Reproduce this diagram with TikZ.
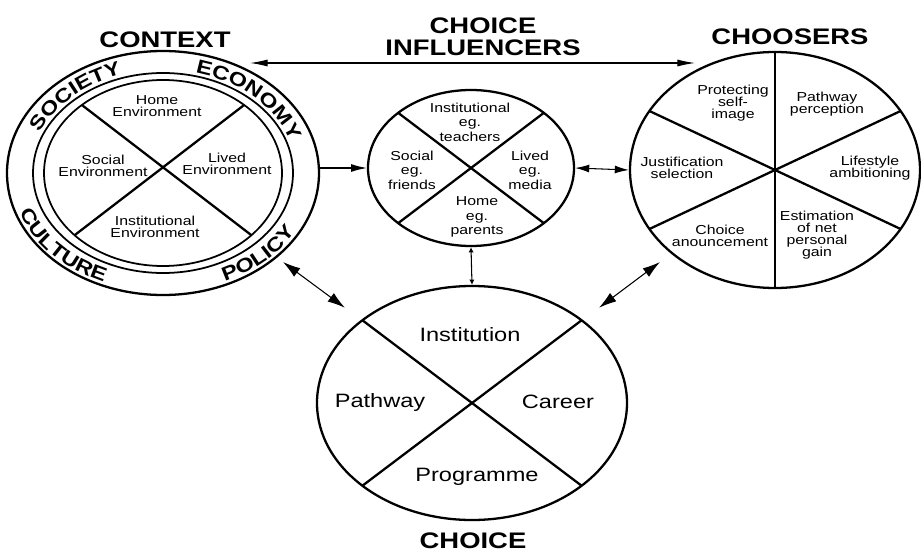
\documentclass[tikz,border=0pt]{standalone}
\usepackage{fontspec}
\setmainfont{Liberation Sans}[FakeStretch=1.22]
\usetikzlibrary{shapes.geometric,arrows.meta,decorations.text}
\begin{document}
\begin{tikzpicture}[
    ring/.style={draw, ellipse, line width=1.3pt, inner sep=0pt},
    spoke/.style={line width=1.3pt},
    small/.style={align=center, font=\fontsize{7.4}{6.9}\selectfont},
    big/.style={font=\fontsize{11}{12}\selectfont},
    head/.style={align=center, font=\bfseries\fontsize{12.8}{12.5}\selectfont},
    arr/.style={line width=0.6pt, >={Latex[length=9pt,width=4.5pt]}},
    band/.style={decorate, decoration={text along path, text align=center,
        text={|\bfseries\fontsize{11}{10}\selectfont|#1}}}
]
    \useasboundingbox (0,0) rectangle (18.42,11.02);

    % context
    \node[ring, minimum width=6.24cm, minimum height=4.88cm] (ctx) at (3.26,7.56) {};
    \draw[line width=1pt] (ctx.center) ellipse (2.6 and 2.0);
    \draw[line width=1pt] (ctx.center) ellipse (2.38 and 1.86);
    \begin{scope}[shift={(ctx.center)}]
        \draw[spoke] (133:2.38 and 1.86) -- (-42:2.38 and 1.86);
        \draw[spoke] (47:2.38 and 1.86) -- (222:2.38 and 1.86);
    \end{scope}
    \path[band=SOCIETY, shift={(ctx.center)}] (180:2.67 and 2.07) arc[start angle=180, end angle=90, x radius=2.67, y radius=2.07];
    \path[band=ECONOMY, shift={(ctx.center)}] (90:2.67 and 2.07) arc[start angle=90, end angle=0, x radius=2.67, y radius=2.07];
    \path[band=CULTURE, shift={(ctx.center)}] (176:3.05 and 2.37) arc[start angle=176, end angle=266, x radius=3.05, y radius=2.37];
    \path[band=POLICY, shift={(ctx.center)}] (270:3.05 and 2.37) arc[start angle=270, end angle=360, x radius=3.05, y radius=2.37];
    \node[small] (home) at (3.14,8.90) {Home\\Environment};
    \node[small] (social) at (2.06,7.70) {Social\\Environment};
    \node[small] (lived) at (4.54,7.74) {Lived\\Environment};
    \node[small] (inst) at (3.10,6.48) {Institutional\\Environment};
    \node[head] (ctxhead) at (3.30,10.23) {CONTEXT};

    % choice influencers
    \node[ring, minimum width=4.12cm, minimum height=3.12cm] (infl) at (9.42,7.66) {};
    \begin{scope}[shift={(infl.center)}]
        \draw[spoke] (135:2.06 and 1.56) -- (-45:2.06 and 1.56);
        \draw[spoke] (45:2.06 and 1.56) -- (225:2.06 and 1.56);
    \end{scope}
    \node[small, font=\fontsize{7.4}{8.2}\selectfont] (teach) at (9.40,8.58) {Institutional\\eg.\\teachers};
    \node[small, font=\fontsize{7.4}{8.2}\selectfont] (friends) at (8.24,7.62) {Social\\eg.\\friends};
    \node[small, font=\fontsize{7.4}{8.2}\selectfont] (media) at (10.60,7.62) {Lived\\eg.\\media};
    \node[small, font=\fontsize{7.4}{8.2}\selectfont] (parents) at (9.54,6.68) {Home\\eg.\\parents};
    \node[head] (inflhead) at (9.66,10.28) {CHOICE\\INFLUENCERS};

    % choosers
    \node[ring, minimum width=5.8cm, minimum height=4.72cm] (chsr) at (15.50,7.62) {};
    \begin{scope}[shift={(chsr.center)}]
        \foreach \a in {30,90,...,330}
            \draw[spoke] (0,0) -- (\a:2.9 and 2.36);
    \end{scope}
    \node[small] (self) at (14.66,8.96) {Protecting\\self-\\image};
    \node[small] (percep) at (16.54,8.94) {Pathway\\perception};
    \node[small] (justif) at (13.64,7.66) {Justification\\selection};
    \node[small] (life) at (17.40,7.66) {Lifestyle\\ambitioning};
    \node[small] (anoun) at (14.40,6.30) {Choice\\anouncement};
    \node[small] (gain) at (16.34,6.32) {Estimation\\of net\\personal\\gain};
    \node[head] (chsrhead) at (15.80,10.28) {CHOOSERS};

    % choice
    \node[ring, minimum width=6.2cm, minimum height=4.68cm] (choice) at (9.44,2.96) {};
    \begin{scope}[shift={(choice.center)}]
        \draw[spoke] (135:3.1 and 2.34) -- (-45:3.1 and 2.34);
        \draw[spoke] (45:3.1 and 2.34) -- (225:3.1 and 2.34);
    \end{scope}
    \node[big] (instn) at (9.40,4.32) {Institution};
    \node[big] (path) at (7.60,2.98) {Pathway};
    \node[big] (career) at (11.16,2.98) {Career};
    \node[big] (prog) at (9.54,1.48) {Programme};
    \node[head] (choicehead) at (9.46,0.20) {CHOICE};

    % arrows
    \coordinate (ctxtop) at (5.00,9.76);
    \coordinate (chsrtop) at (13.90,9.76);
    \coordinate (ctxlow) at (5.66,5.78);
    \coordinate (choicel) at (7.04,4.76);
    \coordinate (chsrlow) at (13.20,5.78);
    \coordinate (choicer) at (11.84,4.76);
    \draw[arr, >={Latex[length=10pt,width=4pt]}, <->] (ctxtop) -- (chsrtop);
    \draw[arr, ->] (infl.west -| ctx.east) -- (infl.west);
    \draw[arr, <->, >={Latex[length=8pt,width=4.5pt]}] (infl.east) -- (chsr.west);
    \draw[arr, <->, >={Latex[length=3pt,width=3pt]}] (infl.south) -- (choice.north);
    \draw[arr, {Latex[length=10pt,width=6pt]}-{Latex[length=10pt,width=6pt,sep=5pt]}] (ctxlow) -- (choicel);
    \draw[arr, {Latex[length=10pt,width=6pt]}-{Latex[length=10pt,width=6pt,sep=5pt]}] (chsrlow) -- (choicer);
\end{tikzpicture}
\end{document}
